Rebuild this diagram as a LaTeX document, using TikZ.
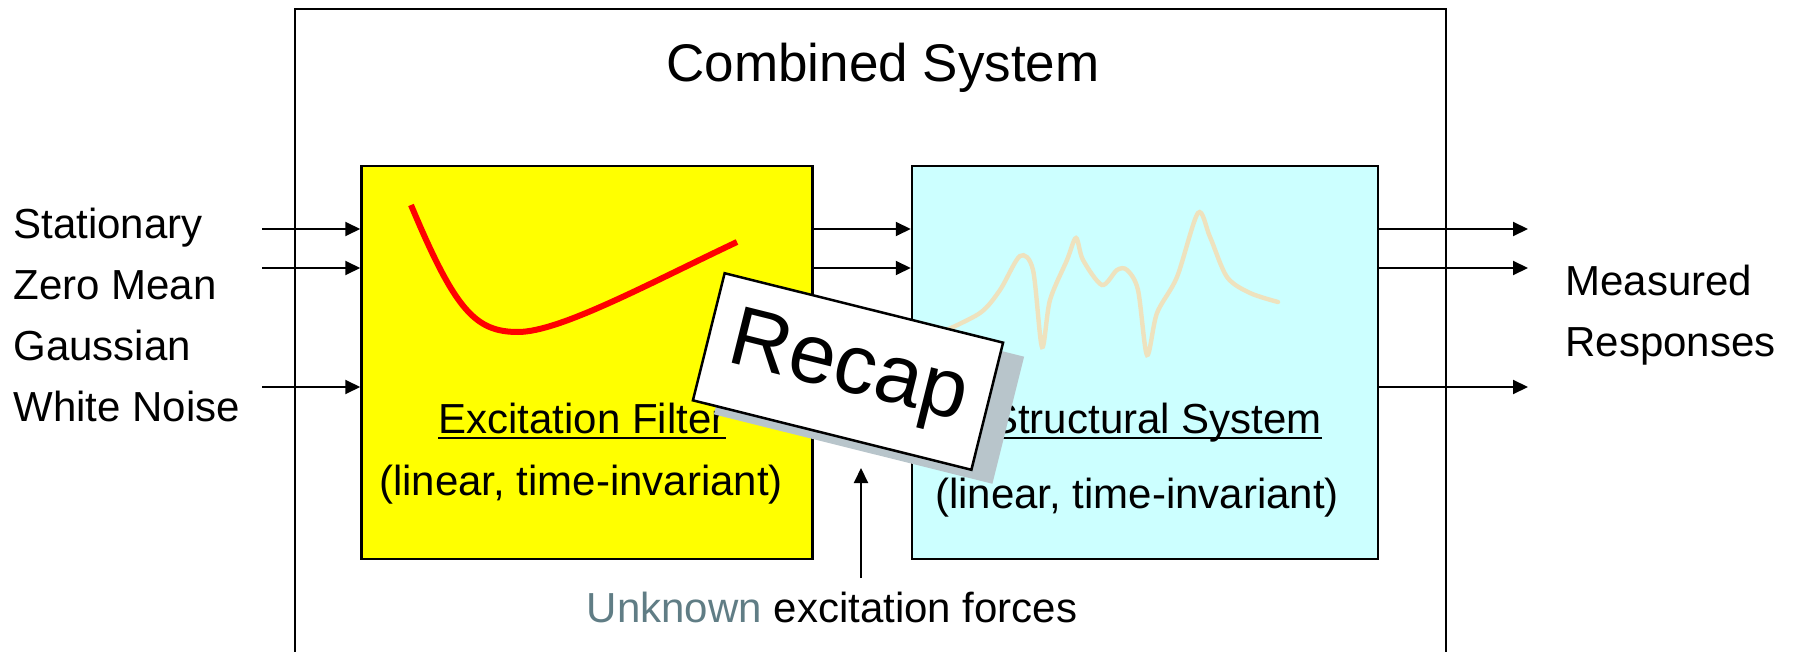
\documentclass[tikz,border=0pt]{standalone}
\usepackage{fontspec}
\setmainfont{Liberation Sans}
\usetikzlibrary{arrows.meta}

\definecolor{filteryellow}{RGB}{255,255,0}
\definecolor{structcyan}{RGB}{204,255,255}
\definecolor{curvebeige}{RGB}{238,226,190}
\definecolor{shadowgray}{RGB}{184,197,203}
\definecolor{unknowngray}{RGB}{96,125,133}

\newcommand{\ulbox}[1]{\setbox0=\hbox{#1}\rlap{\rule[-3.2pt]{\wd0}{1.4pt}}\box0}

\begin{document}
\begin{tikzpicture}[x=0.5pt,y=-0.5pt,
  blk/.style={draw,line width=1.25pt,minimum width=#1*0.5pt,minimum height=196.5pt,inner sep=0pt},
  txt/.style={inner sep=0pt,font=\fontsize{21}{30.4}\selectfont},
  arr/.style={line width=1pt,-{Triangle[length=7.5pt,width=7pt]}},
  card/.style={minimum width=143.5pt,minimum height=65.5pt,line width=1.25pt,inner sep=0pt}]

 \useasboundingbox (0,0) rectangle (1794,652);

 % combined system
 \draw[line width=1.25pt] (295,670) -- (295,9) -- (1446,9) -- (1446,670);
 \node[txt,font=\fontsize{26.5}{30}\selectfont,anchor=base] (combined) at (883,82) {Combined System};

 % the two blocks
 \node[blk=451,fill=filteryellow] (filter) at (587,362.5) {};
 \node[blk=466,fill=structcyan] (struct) at (1145,362.5) {};

 \draw[red,line width=3pt] (411,205) .. controls (455,310) and (475,332) .. (518,332)
   .. controls (560,332) and (650,283) .. (737,242);
 \draw[curvebeige,line width=2.2pt,line cap=round] plot[smooth,tension=0.5] coordinates {(940,333) (980,313) (1000,290) (1020,256) (1033,270) (1042,347) (1050,300) (1067,260) (1076,238) (1083,260) (1102,285) (1117,270) (1127,270) (1138,290) (1147,355) (1157,313) (1177,277) (1198,213) (1210,237) (1227,277) (1250,293) (1278,302)};

 \node[txt,anchor=base] (filtername) at (582,433) {\ulbox{Excitation Filter}};
 \node[txt,anchor=base] (filterprop) at (581,495) {(linear, time-invariant)};
 \node[txt,anchor=base] (structname) at (1156,433) {\ulbox{Structural System}};
 \node[txt,anchor=base] (structprop) at (1137,508) {(linear, time-invariant)};

 % noise in, responses out
 \node[txt,align=left,anchor=north west] (noise) at (13,208) {Stationary\\Zero Mean\\Gaussian\\White Noise};
 \node[txt,align=left,anchor=north west] (resp) at (1565,265) {Measured\\Responses};

 \coordinate (in1) at (262,229);
 \coordinate (in2) at (262,268);
 \coordinate (in3) at (262,387);
 \coordinate (out) at (1528,0);

 \foreach \c in {in1,in2,in3}{
   \draw[arr] (\c) -- (\c -| filter.west);
   \draw[arr] (\c -| filter.east) -- (\c -| struct.west);
   \draw[arr] (\c -| struct.east) -- (\c -| out);
 }

 % recap card
 \node[card,fill=shadowgray,rotate=-14] (recapshadow) at (869,385.5) {};
 \node[card,draw,fill=white,rotate=-14,font=\fontsize{42}{42}\selectfont] (recap) at (848,371.5) {Recap};

 % unknown forces
 \node[txt,anchor=base] (force) at (832,622) {\textcolor{unknowngray}{Unknown} excitation forces};
 \coordinate (forcetip) at (861,468);
 \draw[arr,shorten <=6.5pt] (force.north -| forcetip) -- (forcetip);

\end{tikzpicture}
\end{document}
